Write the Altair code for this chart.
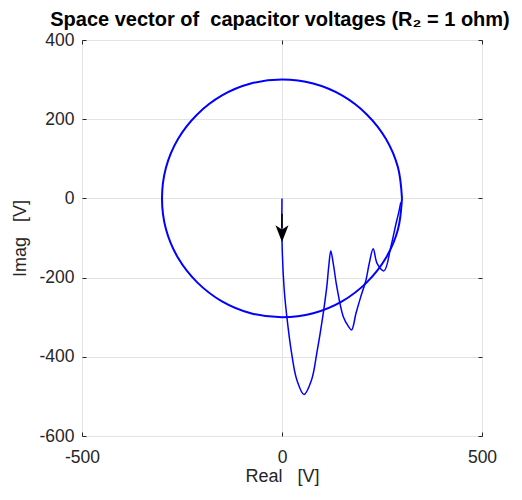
import altair as alt
import pandas as pd

# Steady-state circle (space vector locus)
circ_x = [300, 290, 260, 212, 150, 78, 0, -78, -150, -212, -260, -290, -300,
          -290, -260, -212, -150, -78, 0, 78, 150, 212, 260, 290, 300]
circ_y = [0, 78, 150, 212, 260, 290, 300, 290, 260, 212, 150, 78, 0,
          -78, -150, -212, -260, -290, -300, -290, -260, -212, -150, -78, 0]

# Start-up transient
tr_x = [0, 0, 5, 12, 24, 37, 55, 74, 87, 102, 112, 117, 122, 129, 137, 153, 166,
        174, 185, 197, 209, 218, 228, 238, 255, 272, 285, 291, 297]
tr_y = [0, -106, -223, -298, -391, -458, -495, -458, -391, -298, -223, -170, -133,
        -170, -223, -298, -323, -332, -290, -248, -210, -165, -127, -165, -183,
        -123, -64, -39, -10]

# Arrow (start direction)
shaft_x = [0, 0]
shaft_y = [-39, -75]
head_x = [0]
head_y = [-89]

x_ticks = [-500, 0, 500]
y_ticks = [-600, -400, -200, 0, 200, 400]

circle_df = pd.DataFrame({"x": circ_x, "y": circ_y, "i": list(range(len(circ_x)))})
tr_df = pd.DataFrame({"x": tr_x, "y": tr_y, "i": list(range(len(tr_x)))})
shaft_df = pd.DataFrame({"x": shaft_x, "y": shaft_y, "i": [0, 1]})
head_df = pd.DataFrame({"x": head_x, "y": head_y})

FONT = "Liberation Sans"
DARK = "#262626"

xs = alt.Scale(domain=[-500, 500], nice=False, zero=False)
ys = alt.Scale(domain=[-600, 400], nice=False, zero=False)

common = dict(
    labelFont=FONT, labelFontSize=17.5, labelColor=DARK,
    titleFont=FONT, titleFontSize=18, titleFontWeight="normal", titleColor=DARK,
    tickColor=DARK, tickSize=4, tickWidth=1, offset=-4, domain=False,
    gridColor="#e3e3e3", gridWidth=1, labelExpr="'' + datum.value",
    labelFlush=False, labelOverlap=False,
)

x_bottom = alt.Axis(orient="bottom", values=x_ticks, title="Real\u00a0\u00a0\u00a0[V]",
                    grid=True, labelPadding=12, titlePadding=2, **common)
y_left = alt.Axis(orient="left", values=y_ticks, title="Imag\u00a0\u00a0\u00a0[V]",
                  grid=True, labelPadding=8, titlePadding=9, **common)
x_top = alt.Axis(orient="top", values=x_ticks, title="", labels=False, grid=False,
                 tickColor=DARK, tickSize=4, offset=-4, domain=False)
y_right = alt.Axis(orient="right", values=y_ticks, title="", labels=False, grid=False,
                   tickColor=DARK, tickSize=4, offset=-4, domain=False)

circle = alt.Chart(circle_df).mark_line(
    color="#0000ff", strokeWidth=2, interpolate="catmull-rom"
).encode(
    x=alt.X("x:Q", scale=xs, axis=x_bottom),
    y=alt.Y("y:Q", scale=ys, axis=y_left),
    order="i:Q",
)

transient = alt.Chart(tr_df).mark_line(
    color="#0000ff", strokeWidth=1.5, interpolate="catmull-rom"
).encode(
    x=alt.X("x:Q", scale=xs, axis=x_top),
    y=alt.Y("y:Q", scale=ys, axis=y_right),
    order="i:Q",
)

shaft = alt.Chart(shaft_df).mark_line(color="black", strokeWidth=1.5).encode(
    x=alt.X("x:Q", scale=xs, axis=None),
    y=alt.Y("y:Q", scale=ys, axis=None),
    order="i:Q",
)

head = alt.Chart(head_df).mark_point(
    shape="M0,1 L-0.78,-1 L0,-0.5 L0.78,-1 Z",
    filled=True, color="black", opacity=1, size=280, strokeWidth=0,
).encode(
    x=alt.X("x:Q", scale=xs, axis=None),
    y=alt.Y("y:Q", scale=ys, axis=None),
)

chart = alt.layer(circle, transient, shaft, head).resolve_axis(
    x="independent", y="independent"
).properties(
    width=400,
    height=396,
    autosize=alt.AutoSizeParams(type="none"),
    padding={"left": 74, "top": 32, "right": 32, "bottom": 50},
    title=alt.TitleParams(
        text="Space vector of\u00a0 capacitor voltages (R\u2082 = 1 ohm)",
        font=FONT, fontSize=20, fontWeight="bold", color="black",
        anchor="middle", frame="group", baseline="alphabetic", offset=-15, dx=-2,
    ),
).configure_view(stroke=DARK, strokeWidth=1).configure(background="white")

chart.save("out.html", embed_options={"renderer": "svg", "actions": False})
